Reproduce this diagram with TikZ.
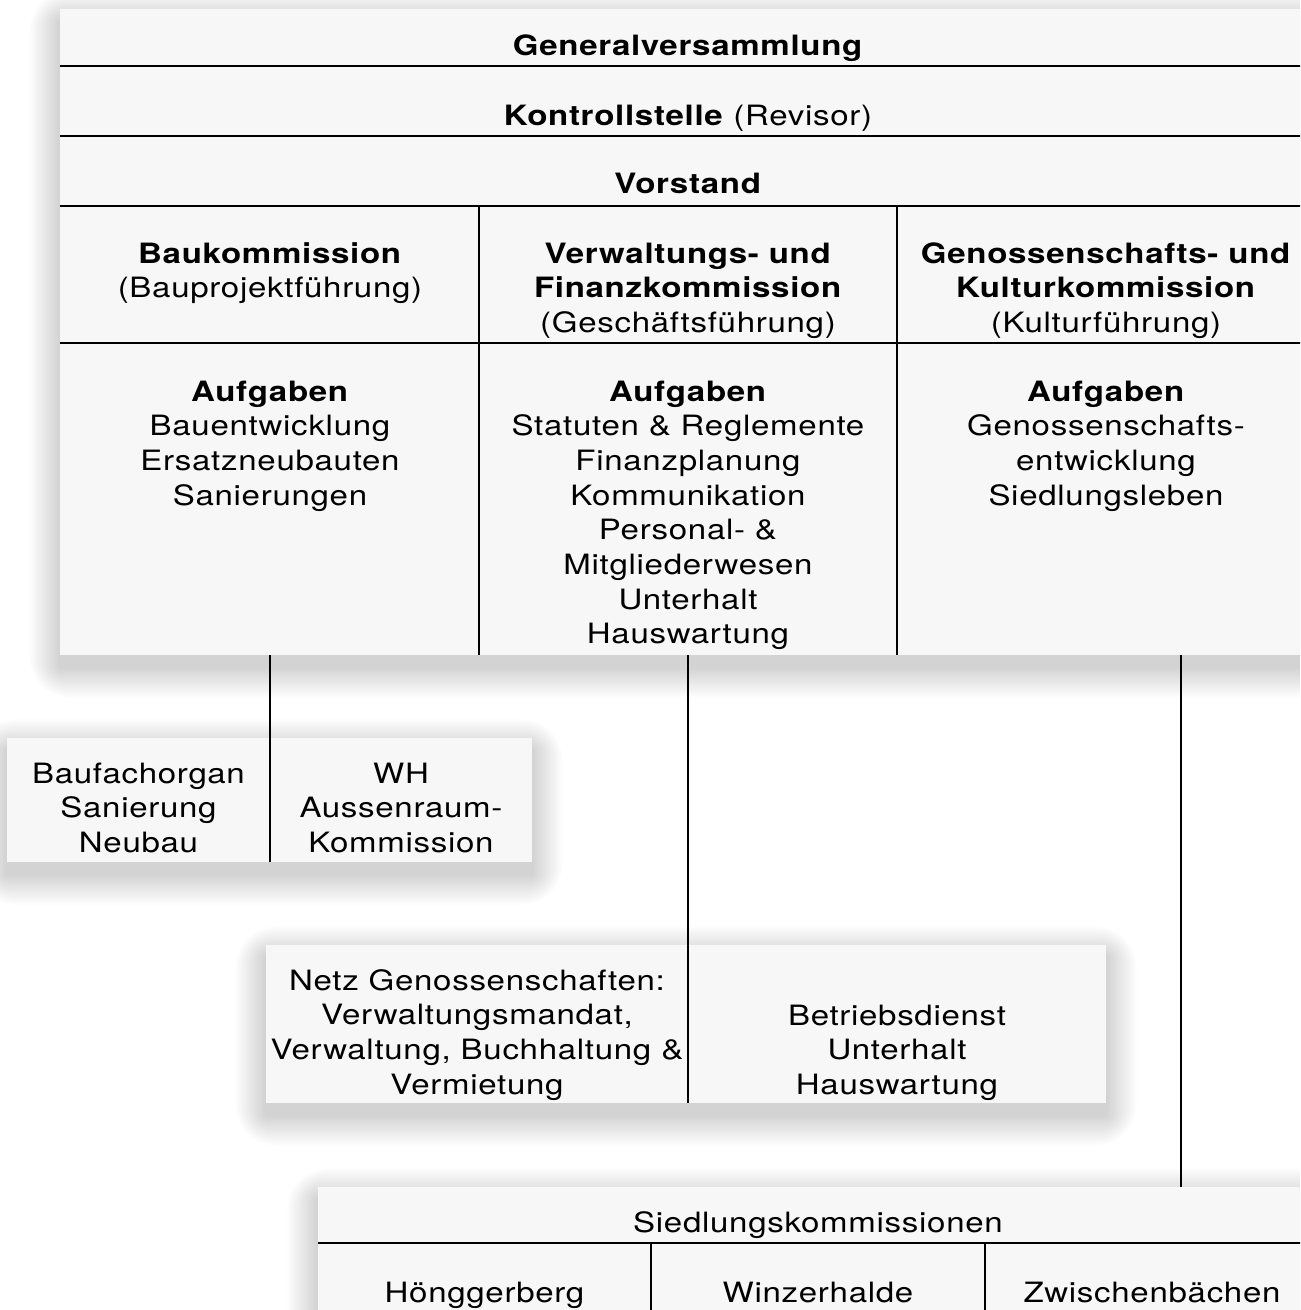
\documentclass[tikz,border=0pt]{standalone}
\usepackage{fontspec}
\setmainfont{TeX Gyre Heros}[FakeStretch=1.18, LetterSpace=2.5]
\usetikzlibrary{positioning,calc}
\definecolor{pnl}{HTML}{F7F7F7}

\newcommand{\fst}{\rule{0pt}{16pt}}
% soft shadow + panel fill
\newcommand{\orgpanel}[4]{%
  \foreach \i in {1,...,22}{
    \fill[black, opacity=0.0075, rounded corners=1.4*\i] (#1-1.4*\i,#2+12-1.4*\i) rectangle (#3+1.4*\i,#4+12+1.4*\i);
  }
  \fill[pnl] (#1,#2) rectangle (#3,#4);
}

\begin{document}
\begin{tikzpicture}[x=0.75pt, y=-0.75pt,
    lbl/.style={inner sep=0pt, anchor=north, align=center, font=\fontsize{21}{26}\selectfont},
    rule/.style={line width=1.1pt, black},
    link/.style={line width=1.1pt, black},
]
\useasboundingbox (0,0) rectangle (1300,1310);
\clip (0,0) rectangle (1300,1310);
\fill[white] (0,0) rectangle (1300,1310);

% === PANELS ===
\orgpanel{60}{9}{1316}{655}
\orgpanel{7}{738}{532}{862}
\orgpanel{266}{945}{1106}{1103}
\orgpanel{318}{1187}{1319}{1360}

% === MAIN TABLE ===
\draw[rule] (60,66) -- (1316,66);
\draw[rule] (60,136) -- (1316,136);
\draw[rule] (60,206) -- (1316,206);
\draw[rule] (60,343) -- (1316,343);
\draw[rule] (479,206) -- (479,655);
\draw[rule] (897,206) -- (897,655);

\node[lbl] (gv) at (688,33.7) {\fst\textbf{Generalversammlung}};
\node[lbl] (ks) at (688,103.7) {\fst\textbf{Kontrollstelle} (Revisor)};
\node[lbl] (vs) at (688,171.7) {\fst\textbf{Vorstand}};

% Kommissionen
\node[lbl] (bk) at (270,241.7) {\fst\textbf{Baukommission}\\(Bauprojektführung)};
\node[lbl] (vf) at (688,241.7) {\fst\textbf{Verwaltungs- und}\\\textbf{Finanzkommission}\\(Geschäftsführung)};
\node[lbl] (gk) at (1106,241.7) {\fst\textbf{Genossenschafts- und}\\\textbf{Kulturkommission}\\(Kulturführung)};

% Aufgaben
\node[lbl] (a1) at (270,379.7) {\fst\textbf{Aufgaben}\\Bauentwicklung\\Ersatzneubauten\\Sanierungen};
\node[lbl] (a2) at (688,379.7) {\fst\textbf{Aufgaben}\\Statuten \& Reglemente\\Finanzplanung\\Kommunikation\\Personal- \&\\Mitgliederwesen\\Unterhalt\\Hauswartung};
\node[lbl] (a3) at (1106,379.7) {\fst\textbf{Aufgaben}\\Genossenschafts-\\entwicklung\\Siedlungsleben};

% === CONNECTORS ===
\coordinate (k1a) at (270,655);
\coordinate (k1b) at (270,862);
\coordinate (k2a) at (688,655);
\coordinate (k2b) at (688,1103);
\coordinate (k3a) at (1181,655);
\coordinate (k3b) at (1181,1187);
\draw[link] (k1a) -- (k1b);
\draw[link] (k2a) -- (k2b);
\draw[link] (k3a) -- (k3b);

% === BAU ===
\node[lbl] (bfo) at (138.5,761.7) {\fst Baufachorgan\\Sanierung\\Neubau};
\node[lbl] (wh) at (401,761.7) {\fst WH\\Aussenraum-\\Kommission};

% === VERWALTUNG ===
\node[lbl] (netz) at (477,968.7) {\fst Netz Genossenschaften:\\Verwaltungsmandat,\\Verwaltung, Buchhaltung \&\\Vermietung};
\node[lbl] (bd) at (897,1003.7) {\fst Betriebsdienst\\Unterhalt\\Hauswartung};

% === SIEDLUNGEN ===
\draw[rule] (318,1243) -- (1319,1243);
\draw[rule] (651,1243) -- (651,1360);
\draw[rule] (985,1243) -- (985,1360);
\node[lbl] (sk) at (818,1210.7) {\fst Siedlungskommissionen};
\node[lbl] (hg) at (484.5,1280.7) {\fst Hönggerberg};
\node[lbl] (wz) at (818,1280.7) {\fst Winzerhalde};
\node[lbl] (zb) at (1152,1280.7) {\fst Zwischenbächen};

\end{tikzpicture}
\end{document}
